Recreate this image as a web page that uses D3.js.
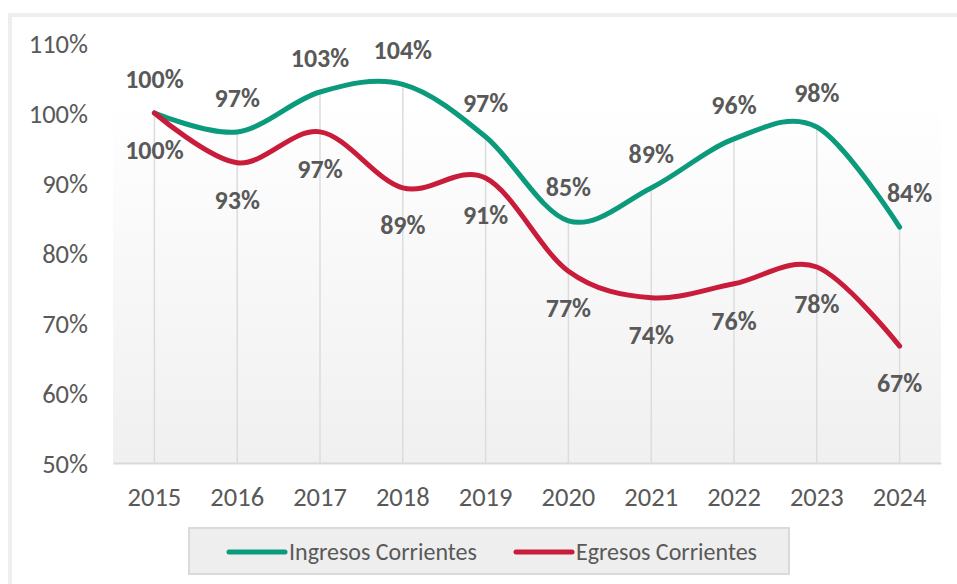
<!DOCTYPE html>
<html>
<head>
<meta charset="utf-8">
<script src="https://cdn.jsdelivr.net/npm/d3@7"></script>
<style>
  html, body { margin: 0; padding: 0; background: #ffffff; }
  svg { display: block; }
  text { font-family: Carlito, Calibri, "Open Sans", sans-serif; }
</style>
</head>
<body>
<svg id="chart" width="957" height="584"></svg>
<script>
const years = ["2015", "2016", "2017", "2018", "2019", "2020", "2021", "2022", "2023", "2024"];
const ingresos = [100, 97.3, 103, 104.1, 96.6, 84.6, 89.3, 96.3, 98, 83.7];
const egresos = [100, 92.9, 97.3, 89.3, 90.7, 77.4, 73.6, 75.6, 78, 66.7];
const yTicks = [50, 60, 70, 80, 90, 100, 110];
const seriesNames = ["Ingresos Corrientes", "Egresos Corrientes"];
const seriesColors = ["#0b9a7b", "#c81c3a"];

const svg = d3.select("#chart");
const textColor = "#595959";

// outer frame
svg.append("rect")
  .attr("x", 10).attr("y", 15).attr("width", 1000).attr("height", 1000)
  .attr("fill", "none").attr("stroke", "#eeeeee").attr("stroke-width", 4);

const x = d3.scaleBand().domain(years).range([113, 941]).padding(0);
const y = d3.scaleLinear().domain([50, 110]).range([463, 43]);
const cx = d => x(d) + x.bandwidth() / 2;

// plot area gradient
const defs = svg.append("defs");
const grad = defs.append("linearGradient").attr("id", "pa").attr("x1", 0).attr("y1", 0).attr("x2", 0).attr("y2", 1);
grad.append("stop").attr("offset", "0%").attr("stop-color", "#ffffff");
grad.append("stop").attr("offset", "100%").attr("stop-color", "#f0f0f0");
svg.append("rect")
  .attr("x", 113).attr("y", 98).attr("width", 828).attr("height", y(50) - 98)
  .attr("fill", "url(#pa)");

// drop lines
svg.append("g").selectAll("line").data(years).join("line")
  .attr("x1", d => cx(d)).attr("x2", d => cx(d))
  .attr("y1", (d, i) => y(Math.max(ingresos[i], egresos[i])))
  .attr("y2", y(50))
  .attr("stroke", "#dcdcdc").attr("stroke-width", 1.5);

// x axis
const xAxis = svg.append("g").attr("transform", `translate(0,${y(50)})`)
  .call(d3.axisBottom(x).tickSize(0));
xAxis.select(".domain").attr("stroke", "#d9d9d9").attr("stroke-width", 2);
xAxis.selectAll("text").attr("fill", textColor).attr("font-size", 26.5)
  .attr("y", 34).attr("dy", "0.35em");

// y axis
const yAxis = svg.append("g").attr("transform", "translate(113,0)")
  .call(d3.axisLeft(y).tickValues(yTicks).tickSize(0).tickPadding(25).tickFormat(d => d + "%"));
yAxis.select(".domain").remove();
yAxis.selectAll("text").attr("fill", textColor).attr("font-size", 26.5).attr("dy", "0.35em");

// lines
const line = d3.line().x((d, i) => cx(years[i])).y(d => y(d)).curve(d3.curveCardinal.tension(0));
const allSeries = [ingresos, egresos];
svg.append("g").selectAll("path").data(allSeries).join("path")
  .attr("d", d => line(d))
  .attr("fill", "none")
  .attr("stroke", (d, i) => seriesColors[i])
  .attr("stroke-width", 5)
  .attr("stroke-linecap", "round")
  .attr("stroke-linejoin", "round");

// data labels
const labels = svg.append("g").attr("font-weight", "bold").attr("font-size", 26).attr("fill", textColor).attr("text-anchor", "middle");
labels.selectAll("text.ing").data(ingresos).join("text")
  .attr("class", "ing")
  .attr("x", (d, i) => cx(years[i]) + (i === years.length - 1 ? 10 : 0))
  .attr("y", d => y(d) - 34)
  .attr("dy", "0.35em")
  .text(d => Math.round(d) + "%");
labels.selectAll("text.egr").data(egresos).join("text")
  .attr("class", "egr")
  .attr("x", (d, i) => cx(years[i]))
  .attr("y", d => y(d) + 37)
  .attr("dy", "0.35em")
  .text(d => Math.round(d) + "%");

// legend
const lg = svg.append("g");
lg.append("rect").attr("x", 189).attr("y", 528).attr("width", 600).attr("height", 46)
  .attr("fill", "#eeeeee").attr("stroke", "#dadada").attr("stroke-width", 2);
const legendX = [229, 516];
seriesNames.forEach((name, i) => {
  lg.append("line").attr("x1", legendX[i]).attr("x2", legendX[i] + 56)
    .attr("y1", 552).attr("y2", 552)
    .attr("stroke", seriesColors[i]).attr("stroke-width", 5).attr("stroke-linecap", "round");
  lg.append("text").attr("x", legendX[i] + 60).attr("y", 552).attr("dy", "0.35em")
    .attr("font-size", 24).attr("fill", textColor).text(name);
});
</script>
</body>
</html>
